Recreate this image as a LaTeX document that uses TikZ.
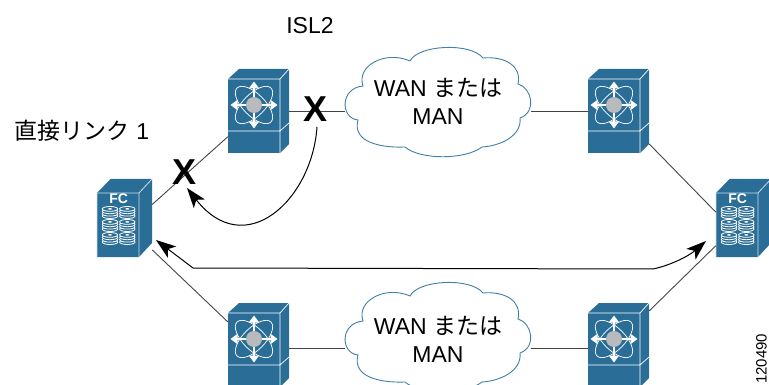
\documentclass[tikz,border=0pt]{standalone}
\usepackage{fontspec}
\setmainfont{Liberation Sans}
\newfontfamily\cjk{Noto Sans CJK JP}
\usetikzlibrary{arrows.meta}
\definecolor{ciscoblue}{HTML}{2A6E98}
\definecolor{cloudline}{HTML}{3F7FA8}
\definecolor{hubgray}{HTML}{B9BABD}
\definecolor{linkgray}{HTML}{444444}
\tikzset{
  swbox/.style={minimum width=61pt,minimum height=84pt,inner sep=0pt},
  fcbox/.style={minimum width=55pt,minimum height=78pt,inner sep=0pt},
  wanbox/.style={minimum width=185pt,minimum height=100pt,inner sep=0pt,align=center,font=\fontsize{23}{28}\selectfont},
  link/.style={draw=linkgray,line width=0.9pt},
  failpath/.style={draw=black,line width=1pt,-{Stealth[length=20pt,width=14pt,inset=5pt]}},
  lbl/.style={inner sep=0pt,font=\fontsize{23}{28}\selectfont},
  cross/.style={inner sep=0pt,font=\bfseries\fontsize{36}{36}\selectfont},
  wancloud/.pic={
    \draw[cloudline,line width=0.9pt] (-74,-15) .. controls (-81,-35) and (-52,-51) .. (-27,-40)
      .. controls (-19,-56) and (33,-59) .. (46,-43)
      .. controls (68,-45) and (85,-35) .. (81,-17)
      .. controls (95,-13) and (100,11) .. (83,17)
      .. controls (85,35) and (63,45) .. (45,46)
      .. controls (28,59) and (-17,59) .. (-32,46)
      .. controls (-57,47) and (-85,41) .. (-79,19)
      .. controls (-97,17) and (-97,-13) .. (-74,-15) -- cycle;
  },
  switchicon/.pic={
    \fill[ciscoblue] (-30.5,-32) -- (-19.5,-42) -- (30.5,-42) -- (30.5,33) -- (21.5,42) -- (-30.5,42) -- cycle;
    \draw[white,line width=0.7pt] (-30.5,-32) -- (21.5,-32) -- (21.5,42) (21.5,-32) -- (30.5,-42)
      (-30.5,20) -- (21.5,20) (21.5,20) -- (30.5,12);
    \begin{scope}[shift={(-4.5,-6)}]
      \draw[white,line width=0.7pt,rotate=45] (0,0) ellipse (24 and 11);
      \draw[white,line width=0.7pt,rotate=-45] (0,0) ellipse (24 and 11);
      \foreach \ang in {0,90,180,270}
        \draw[white,line width=2pt,-{Triangle[length=7pt,width=10pt]},rotate=\ang] (0,0) -- (23.5,0);
      \fill[hubgray] (0,0) circle (8);
    \end{scope}
  },
  fcicon/.pic={
    \fill[ciscoblue] (-27.5,-25) -- (-14,-39) -- (27.5,-39) -- (27.5,25) -- (14.5,39) -- (-27.5,39) -- cycle;
    \draw[white!75!ciscoblue,line width=0.8pt] (-27.5,39) -- (-27.5,-25) -- (14.5,-25) -- (14.5,39) (14.5,-25) -- (27.5,-39);
    \node[white,inner sep=0pt,font=\bfseries\fontsize{14}{14}\selectfont] at (-5.8,-19.7) {FC};
    \foreach \cx in {-14.5,2.8}
      \foreach \cy in {-5.5,7.5,20.5}{
        \foreach \dy in {3.6,1.2,-1.2,-3.6}
          \draw[white,fill=ciscoblue,line width=0.8pt] (\cx,\cy+\dy) ellipse (7.7 and 2.4);
        \fill[white] (\cx,\cy-3.6) ellipse (2 and 0.8);
      }
  }
}
\begin{document}
\begin{tikzpicture}[x=1pt,y=-1pt]
  \useasboundingbox (0,0) rectangle (769,385);
  \clip (0,0) rectangle (769,385);
  % switches and storage
  \node[swbox](swa) at (258.5,111){};
  \node[swbox](swb) at (618.5,111){};
  \node[swbox](swc) at (258.5,345){};
  \node[swbox](swd) at (618.5,345){};
  \node[fcbox](fca) at (124.5,218){};
  \node[fcbox](fcb) at (743.5,218){};
  \pic at (437,101) {wancloud};
  \pic at (437,336) {wancloud};
  \node[wanbox](wana) at (438,101){WAN {\cjk または}\\MAN};
  \node[wanbox](wanb) at (438,339.5){WAN {\cjk または}\\MAN};
  \pic at (swa) {switchicon};
  \pic at (swb) {switchicon};
  \pic at (swc) {switchicon};
  \pic at (swd) {switchicon};
  \pic at (fca) {fcicon};
  \pic at (fcb) {fcicon};
  % links
  \draw[link] (swa.east) -- (swa.east -| wana.west);
  \draw[link] (swb.west -| wana.east) -- (swb.west);
  \draw[link] (swc.-6) -- (swc.-6 -| wanb.west);
  \draw[link] (swd.186 -| wanb.east) -- (swd.186);
  \draw[link] (fca.26) -- (swa.220);
  \draw[link] (fca.-49) -- (swc.143);
  \draw[link] (swb.-47) -- (fcb.168);
  \draw[link] (swd.48) -- (fcb.225);
  % labels
  \node[lbl](isl) at (310,26){ISL2};
  \node[lbl](direct) at (82,131){{\cjk 直接リンク} 1};
  \node[cross](xa) at (316,109){X};
  \node[cross](xb) at (185,172){X};
  \node[inner sep=0pt,rotate=90,anchor=west,font=\fontsize{15}{15}\selectfont](code) at (761.5,384){120490};
  % failover paths
  \coordinate (xastart) at (317,127);
  \coordinate (xaend) at (187,188);
  \coordinate (lmid) at (193,268);
  \coordinate (rmid) at (653,269);
  \coordinate (ltip) at (156,240);
  \coordinate (rtip) at (706,241);
  \draw[failpath] (xastart) .. controls (312,200) and (245,262) .. (xaend);
  \draw[failpath] (lmid) -- (ltip);
  \draw[failpath] (rmid) .. controls (672,265) and (690,255) .. (rtip);
  \draw[draw=black,line width=1pt] (lmid) -- (rmid);
\end{tikzpicture}
\end{document}
